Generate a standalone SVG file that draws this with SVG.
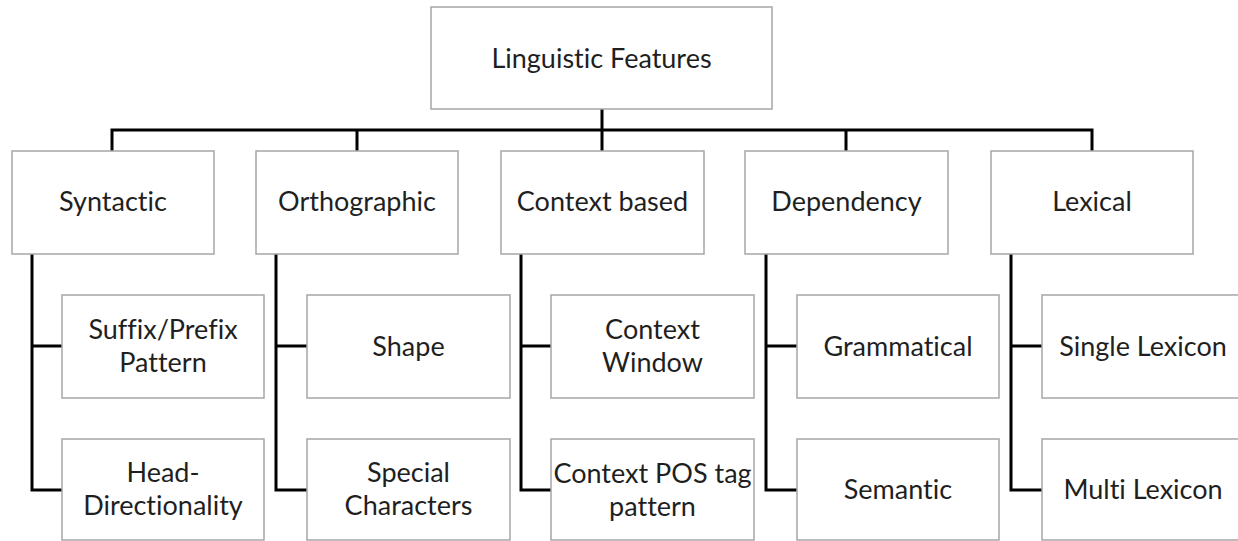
<svg xmlns="http://www.w3.org/2000/svg" width="1238" height="541" viewBox="0 0 1238 541">
<style>
.box{fill:#fff;stroke:#a6a6a6;stroke-width:1.5}
.lbl{font-family:Lato,"Open Sans",sans-serif;font-size:27px;fill:#1f1f1f;text-anchor:middle;font-variant-ligatures:none;font-feature-settings:"liga" 0}
.conn{fill:none;stroke:#000;stroke-width:3}
</style>
<rect width="1238" height="541" fill="#fff"/>
<g id="connectors">
<path class="conn" d="M602,109V151M112,151V130H1092V151M357,130V151M846,130V151"/>
<path class="conn" d="M32,254V490H62M32,346H62"/>
<path class="conn" d="M276,254V490H307M276,346H307"/>
<path class="conn" d="M521,254V490H551M521,346H551"/>
<path class="conn" d="M766,254V490H797M766,346H797"/>
<path class="conn" d="M1011,254V490H1042M1011,346H1042"/>
</g>
<g id="root"><rect class="box" x="431" y="7" width="341" height="102"/><text class="lbl" x="601.5" y="68">Linguistic Features</text></g>
<g id="syntactic"><rect class="box" x="12" y="151" width="202" height="103"/><text class="lbl" x="113" y="211">Syntactic</text></g>
<g id="orthographic"><rect class="box" x="256" y="151" width="202" height="103"/><text class="lbl" x="357" y="211">Orthographic</text></g>
<g id="context-based"><rect class="box" x="501" y="151" width="203" height="103"/><text class="lbl" x="602.5" y="211">Context based</text></g>
<g id="dependency"><rect class="box" x="745" y="151" width="203" height="103"/><text class="lbl" x="846.5" y="211">Dependency</text></g>
<g id="lexical"><rect class="box" x="991" y="151" width="202" height="103"/><text class="lbl" x="1092" y="211">Lexical</text></g>

<g id="suffix-prefix"><rect class="box" x="62" y="295" width="202" height="103"/><text class="lbl" x="163" y="338.5">Suffix/Prefix</text><text class="lbl" x="163" y="371.5">Pattern</text></g>
<g id="head-directionality"><rect class="box" x="62" y="439" width="202" height="101"/><text class="lbl" x="163" y="481.5">Head-</text><text class="lbl" x="163" y="514.5">Directionality</text></g>
<g id="shape"><rect class="box" x="307" y="295" width="203" height="103"/><text class="lbl" x="408.5" y="355.5">Shape</text></g>
<g id="special-characters"><rect class="box" x="307" y="439" width="203" height="101"/><text class="lbl" x="408.5" y="481.5">Special</text><text class="lbl" x="408.5" y="514.5">Characters</text></g>
<g id="context-window"><rect class="box" x="551" y="295" width="203" height="103"/><text class="lbl" x="652.5" y="338.5">Context</text><text class="lbl" x="652.5" y="371.5">Window</text></g>
<g id="context-pos"><rect class="box" x="551" y="439" width="203" height="101"/><text class="lbl" x="652.5" y="483">Context POS tag</text><text class="lbl" x="652.5" y="516">pattern</text></g>
<g id="grammatical"><rect class="box" x="797" y="295" width="202" height="103"/><text class="lbl" x="898" y="355.5">Grammatical</text></g>
<g id="semantic"><rect class="box" x="797" y="439" width="202" height="101"/><text class="lbl" x="898" y="498.5">Semantic</text></g>
<g id="single-lexicon"><rect class="box" x="1042" y="295" width="202" height="103"/><text class="lbl" x="1143" y="355.5">Single Lexicon</text></g>
<g id="multi-lexicon"><rect class="box" x="1042" y="439" width="202" height="101"/><text class="lbl" x="1143" y="498.5">Multi Lexicon</text></g>
</svg>
